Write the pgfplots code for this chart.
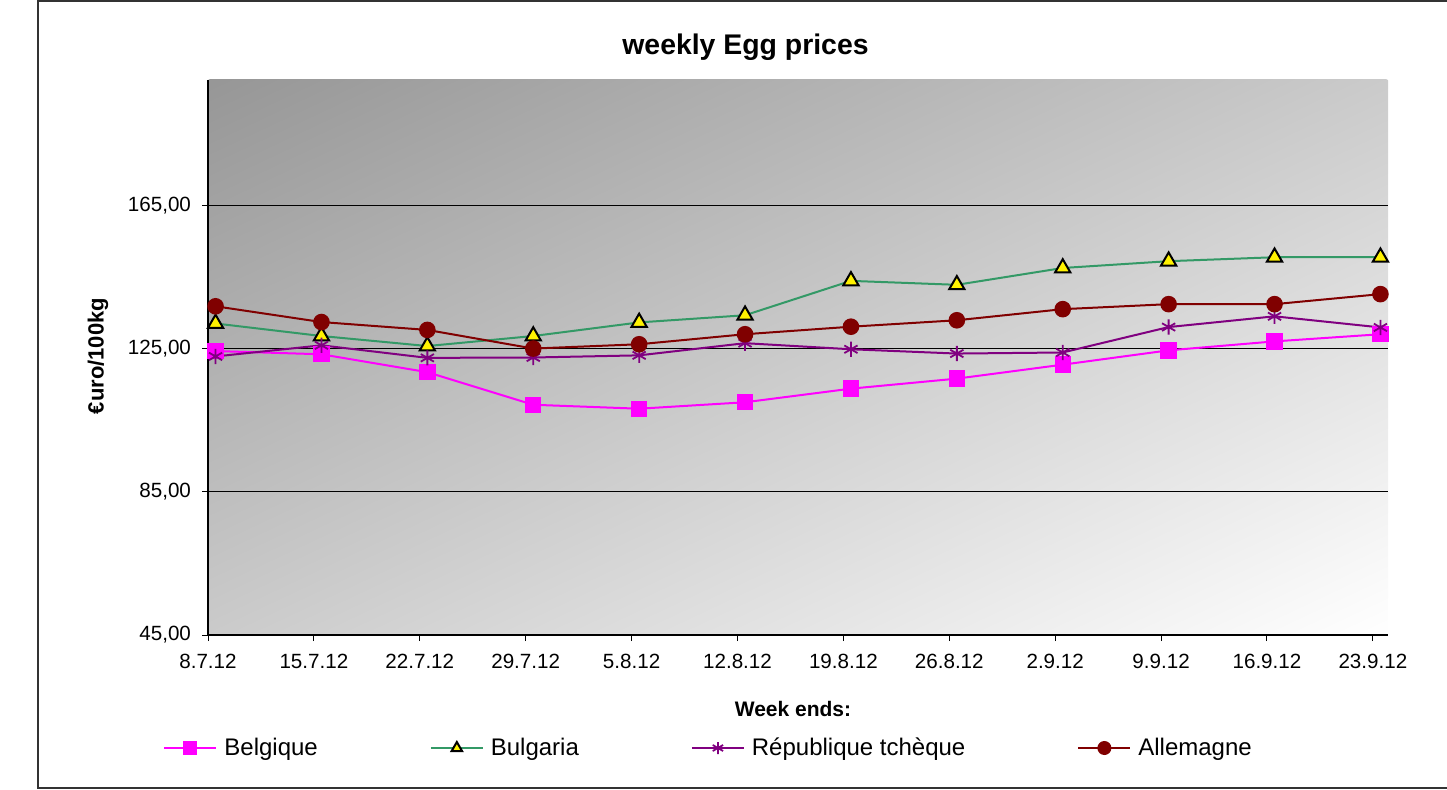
\documentclass[border=0pt]{standalone}
\usepackage{pgfplots}
\usepackage{pgfplotstable}
\pgfplotsset{compat=1.18}
\usepackage{fontspec}
\setmainfont{Liberation Sans}
\definecolor{cbel}{HTML}{FF00FF}
\definecolor{cbul}{HTML}{339966}
\definecolor{ccze}{HTML}{800080}
\definecolor{cger}{HTML}{800000}
\definecolor{bgdark}{gray}{0.59}
\definecolor{bglight}{gray}{1.0}
\pgfplotstableread{
x bel bul cze ger
0.5  124.3 132.0 122.8 136.8
7.5  123.4 128.5 125.9 132.4
14.5 118.4 125.7 122.4 130.2
21.5 109.3 128.5 122.5 125.0
28.5 108.2 132.3 123.1 126.2
35.5 110.0 134.3 126.5 129.0
42.5 113.8 143.9 124.8 131.1
49.5 116.6 142.8 123.6 132.9
56.5 120.5 147.5 123.9 136.0
63.5 124.5 149.4 131.0 137.4
70.5 127.0 150.5 134.0 137.4
77.5 129.0 150.5 130.9 140.2
}\eggdata
\begin{document}
\begin{tikzpicture}
\path[use as bounding box] (0,0) rectangle (723.5pt,394.5pt);
\draw[line width=1pt, color=black!80] (723.5pt,394pt) -- (19pt,394pt) -- (19pt,0.75pt) -- (723.5pt,0.75pt);
% plot-area background: diagonal gradient, dark top-left to light bottom-right
\begin{scope}[transform canvas={shift={(104pt,77pt)}, xscale=5.9, yscale=2.775}]
  \clip (0pt,0pt) rectangle (100pt,100pt);
  \begin{scope}[transform canvas={shift={(50pt,50pt)}, rotate=-45}]
    \shade[left color=bgdark, right color=bglight] (-70.71pt,-70.71pt) rectangle (70.71pt,70.71pt);
  \end{scope}
\end{scope}
\begin{axis}[
  at={(104pt,77pt)}, anchor=south west,
  scale only axis, width=590pt, height=277.5pt,
  xmin=0, xmax=78, ymin=45, ymax=200,
  axis lines*=left,
  tick pos=left,
  clip=false,
  axis line style={black, line width=0.75pt},
  tick align=outside, major tick length=3pt,
  tick style={black, line width=0.5pt},
  xtick={0,7,...,77},
  xticklabels={8.7.12,15.7.12,22.7.12,29.7.12,5.8.12,12.8.12,19.8.12,26.8.12,2.9.12,9.9.12,16.9.12,23.9.12},
  ytick={45,85,125,165},
  ymajorgrids, grid style={black, line width=0.5pt},
  tick label style={font=\fontsize{10.3}{12}\selectfont},
  xticklabel style={yshift=-3pt},
  /pgf/number format/assume math mode=true,
  yticklabel style={xshift=-2pt, /pgf/number format/.cd, fixed, fixed zerofill, precision=2, use comma, 1000 sep={}},
  legend style={at={(-0.0381,-0.2036)}, anchor=west, draw=none, fill=none, inner sep=0pt,
    font=\fontsize{12}{14}\selectfont, nodes={inner sep=0pt},
    /tikz/every odd column/.append style={column sep=3.5pt},
    /tikz/every even column/.append style={column sep=56pt}},
  legend columns=4,
  legend image code/.code={\draw[mark repeat=2,mark phase=2,#1] plot coordinates {(0pt,0pt) (13pt,0pt) (26pt,0pt)};},
  legend image post style={mark size=3pt},
]
\addplot[color=cbel, line width=1pt, mark=square*, mark size=3.6pt, mark options={solid, fill=cbel, draw=cbel}] table[x=x,y=bel] {\eggdata};
\addlegendentry{Belgique}
\addplot[color=cbul, line width=1pt, mark=triangle*, mark size=4.4pt, mark options={solid, fill=yellow, draw=black, line width=1pt}] table[x=x,y=bul] {\eggdata};
\addlegendentry{Bulgaria}
\addplot[color=ccze, line width=1pt, mark=asterisk, mark size=3.8pt, mark options={solid, line width=0.9pt}] table[x=x,y=cze] {\eggdata};
\addlegendentry{République tchèque}
\addplot[color=cger, line width=1pt, mark=*, mark size=3.65pt, mark options={solid, fill=cger, draw=cger}] table[x=x,y=ger] {\eggdata};
\addlegendentry{Allemagne}
\end{axis}
\node[font=\bfseries\fontsize{14.2}{16}\selectfont] at (372.75pt,371pt) {weekly Egg prices};
\node[font=\bfseries\fontsize{11}{13}\selectfont, rotate=90] at (49pt,216.5pt) {€uro/100kg};
\node[font=\bfseries\fontsize{10.5}{12}\selectfont] at (396.5pt,40pt) {Week ends:};
\end{tikzpicture}
\end{document}
